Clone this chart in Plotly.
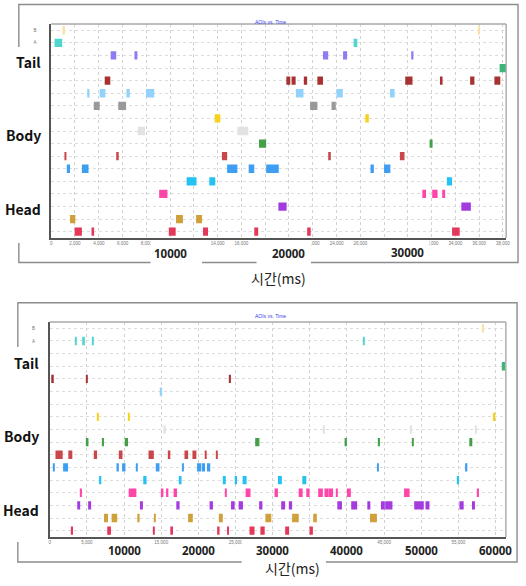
import plotly.graph_objects as go

W, H = 526, 586

# ---------------- data ----------------
ROW_LABELS = ["B", "A", "", "", "", "", "", "", "", "", "", "", "", "", "", "", ""]
ROW_COLORS = ["#FADFA8", "#4FD6CE", "#8B7DF2", "#3DB578", "#A83232", "#93D2FA",
              "#999999", "#F7D21C", "#E2E2E2", "#43A047", "#C9474A", "#3D9EF2",
              "#22C2F2", "#FF46A8", "#A33BDF", "#D0A03A", "#E5375A"]

TOP_ROWS = [0, 0, 1, 1, 2, 2, 2, 2, 2, 3,
            4, 4, 4, 4, 4, 4, 4, 4, 4,
            5, 5, 5, 5, 5, 5, 5,
            6, 6, 6, 6, 7, 7, 8, 8, 9, 9,
            10, 10, 10, 10, 10,
            11, 11, 11, 11, 11, 11, 11,
            12, 12, 12, 13, 13, 13, 13, 14, 14,
            15, 15, 15,
            16, 16, 16, 16, 16, 16, 16]
TOP_STARTS = [950, 35900, 280, 25440, 5000, 7000, 22860, 24550, 30330, 37720,
              4500, 19780, 20220, 21250, 22390, 29780, 32700, 35240, 37280,
              3100, 4080, 6330, 7970, 20580, 24000, 28500,
              3580, 5640, 21780, 23580, 13750, 26420, 7280, 15660, 17480, 31830,
              1110, 5530, 14360, 23380, 29330,
              1310, 2580, 14800, 16610, 18080, 26860, 28000,
              11390, 13300, 33280, 9080, 31220, 32050, 32890, 19110, 34500,
              1580, 10500, 12190,
              1970, 3390, 9890, 12770, 17080, 21530, 33720]
TOP_ENDS = [1150, 36080, 920, 25750, 5470, 7250, 23300, 24890, 30470, 38250,
            4970, 20110, 20560, 21530, 22860, 30390, 32920, 35600, 37780,
            3220, 4560, 6610, 8670, 21220, 24530, 28890,
            4080, 6300, 22390, 23940, 14220, 26720, 7890, 16580, 18080, 32080,
            1280, 5680, 14800, 23520, 29720,
            1580, 3140, 15660, 17080, 19140, 27140, 28530,
            12220, 13800, 33720, 9780, 31530, 32500, 33140, 19800, 35300,
            2030, 11080, 12690,
            2580, 3610, 10470, 13190, 17410, 21830, 34360]

BOT_ROWS = [0, 1, 1, 1, 1, 3, 4, 4, 4, 5, 7, 7, 7, 8, 8, 8, 8,
            9, 9, 9, 9, 9, 9, 9, 9,
            10, 10, 10, 10, 10, 10, 10, 10, 10, 10,
            11, 11, 11, 11, 11, 11, 11, 11, 11, 11, 11, 11,
            12, 12, 12, 12, 12, 12, 12, 12, 12,
            13, 13, 13, 13, 13, 13, 13, 13, 13, 13, 13, 13, 13, 13, 13, 13, 13,
            14, 14, 14, 14, 14, 14, 14, 14, 14, 14, 14, 14, 14, 14, 14, 14, 14, 14, 14,
            15, 15, 15, 15, 15, 15, 15, 15, 15, 15,
            16, 16, 16, 16, 16, 16, 16, 16, 16, 16]
BOT_STARTS = [58190, 3370, 4360, 5730, 42200, 60850, 190, 4850, 24200, 14800,
              6400, 10520, 59730, 15290, 36830, 48520, 57320,
              4980, 7070, 10090, 27650, 39690, 44260, 48750, 56480,
              760, 2490, 5920, 9290, 13290, 15960, 18130, 19200, 20850, 22360,
              450, 1790, 8980, 9730, 11650, 14270, 17780, 19820, 20450, 21160, 44040, 55910,
              6630, 12580, 17470, 23290, 24890, 25960, 30710, 34000, 54920,
              4090, 10620, 15060, 15650, 16660, 23650, 26360, 30260, 33510, 34530,
              36130, 36980, 37560, 38530, 40000, 47690, 57550,
              3690, 5160, 12130, 17030, 21510, 24400, 25420, 28180, 31150, 32180,
              38710, 40580, 42750, 44580, 45150, 49060, 50580, 55150, 56840,
              7290, 8320, 11780, 14090, 18620, 22760, 29020, 32620, 35460, 43110,
              2930, 7730, 13870, 16220, 22530, 23860, 26890, 28350, 31690, 34970]
BOT_ENDS = [58450, 3520, 4720, 5880, 42350, 61300, 530, 5070, 24380, 15120,
            6560, 10680, 59960, 15600, 36990, 48680, 57480,
            5200, 7290, 10530, 28220, 40000, 44450, 49010, 56880,
            1730, 3030, 6360, 9780, 14000, 16220, 18620, 19730, 21120, 22530,
            670, 2450, 9290, 10180, 11800, 14760, 18050, 20350, 20890, 21600, 44310, 56210,
            6930, 13020, 17730, 23690, 25200, 26490, 31240, 34530, 55100,
            4320, 11650, 15290, 15960, 17120, 23820, 27020, 30710, 34040, 34970,
            36760, 37540, 38130, 38760, 40530, 48440, 57780,
            4090, 5560, 12530, 17470, 21960, 24890, 26000, 28620, 31680, 32620,
            39330, 41380, 43150, 45100, 46130, 50350, 51110, 55720, 57240,
            7830, 9070, 12090, 14270, 19250, 23290, 29820, 33510, 35950, 44040,
            3120, 8230, 14130, 16580, 22850, 24130, 27560, 28930, 32220, 35420]

TOP_TICKS = list(range(0, 38001, 2000))
TOP_HIDDEN = [10000, 12000, 18000, 20000, 28000, 30000]
BOT_TICKS = list(range(0, 60001, 5000))
BOT_HIDDEN = [10000, 20000, 30000, 40000, 50000, 60000]
TOP_BIG = [10000, 20000, 30000]
BOT_BIG = [10000, 20000, 30000, 40000, 50000, 60000]
GROUP_LABELS = ["Tail", "Body", "Head"]
GROUP_ROWS = [2.55, 8.35, 14.2]
CHART_TITLE = "AOIs vs. Time"
AXIS_TITLE = "시간(ms)"

# ---------------- helpers ----------------
def px(x):
    return x / W

def py(y):
    return 1 - y / H

fig = go.Figure()

def add_bars(rows, starts, ends, xa, ya):
    fig.add_trace(go.Bar(
        orientation="h",
        y=rows,
        base=starts,
        x=[e - s for s, e in zip(starts, ends)],
        width=0.66,
        marker=dict(color=[ROW_COLORS[r] for r in rows], line=dict(width=0)),
        xaxis=xa, yaxis=ya, showlegend=False, hoverinfo="skip",
    ))

add_bars(TOP_ROWS, TOP_STARTS, TOP_ENDS, "x", "y")
add_bars(BOT_ROWS, BOT_STARTS, BOT_ENDS, "x2", "y2")

tick_font = dict(family="Liberation Sans, Arial", size=4.5, color="#777")

def xaxis_cfg(domain, rng, ticks, hidden, anchor):
    return dict(domain=domain, range=rng, tickvals=ticks,
                ticktext=["" if v in hidden else f"{v:,}" for v in ticks],
                tickfont=tick_font,
                showgrid=True, gridcolor="#d2d2d2", griddash="dot", gridwidth=1,
                showline=True, linecolor="#555", linewidth=1.6,
                zeroline=False, ticks="", anchor=anchor, fixedrange=True)

def yaxis_cfg(domain, anchor):
    return dict(domain=domain, range=[16.5, -0.5], tickvals=list(range(len(ROW_LABELS))),
                ticktext=ROW_LABELS, tickfont=tick_font, ticklabelstandoff=12,
                showgrid=True, gridcolor="#dcdcdc", griddash="dot", gridwidth=1,
                showline=True, linecolor="#555", linewidth=1.6,
                zeroline=False, ticks="", anchor=anchor, fixedrange=True)

TOP_BOX = (50.7, 24, 510, 238)
BOT_BOX = (49.3, 322, 509.7, 537)

fig.update_layout(
    width=W, height=H,
    margin=dict(l=0, r=0, t=0, b=0),
    paper_bgcolor="white", plot_bgcolor="white",
    barmode="overlay",
    xaxis=xaxis_cfg([px(TOP_BOX[0]), px(TOP_BOX[2])], [0, 38270], TOP_TICKS, TOP_HIDDEN, "y"),
    yaxis=yaxis_cfg([py(TOP_BOX[3]), py(TOP_BOX[1])], "x"),
    xaxis2=xaxis_cfg([px(BOT_BOX[0]), px(BOT_BOX[2])], [0, 61400], BOT_TICKS, BOT_HIDDEN, "y2"),
    yaxis2=yaxis_cfg([py(BOT_BOX[3]), py(BOT_BOX[1])], "x2"),
)

shapes = []
def rect(x0, y0, x1, y1, **kw):
    d = dict(type="rect", xref="paper", yref="paper",
             x0=px(x0), x1=px(x1), y0=py(y1), y1=py(y0), layer="above")
    d.update(kw)
    shapes.append(d)

def line(x0, y0, x1, y1, color, w):
    shapes.append(dict(type="line", xref="paper", yref="paper",
                       x0=px(x0), x1=px(x1), y0=py(y0), y1=py(y1),
                       line=dict(color=color, width=w), layer="above"))

# outer frames (screenshot borders)
rect(18, 4.5, 522, 262.5, line=dict(color="#8c8c8c", width=1.4), fillcolor="rgba(0,0,0,0)")
rect(17, 302.7, 521, 562, line=dict(color="#8c8c8c", width=1.4), fillcolor="rgba(0,0,0,0)")
# lighter top / right plot borders
for (x0, y0, x1, y1) in (TOP_BOX, BOT_BOX):
    line(x0, y0, x1, y0, "#a8a8a8", 1.4)
    line(x1, y0, x1, y1, "#a8a8a8", 1.4)

white = dict(line=dict(width=0), fillcolor="white")
# top panel cover boxes
rect(0, 47, 47, 243, **white)
rect(151, 241, 203, 266, **white)
rect(258, 241, 313, 266, **white)
rect(380, 241, 432, 260, **white)
rect(240, 264, 330, 290, **white)
# bottom panel cover boxes
rect(0, 347, 46, 542, **white)
rect(243, 540, 328, 566, **white)
rect(240, 564, 340, 586, **white)

fig.update_layout(shapes=shapes)

ann = []
big_font = dict(family="Noto Sans, DejaVu Sans", size=11.5, color="#222")
group_font = dict(family="Noto Sans CJK KR, Noto Sans", size=14, color="#111")
title_font = dict(family="Liberation Sans, Arial", size=5, color="#3a3af0")
axis_font = dict(family="Noto Sans CJK KR", size=14, color="#222")

for v, yy in zip(TOP_BIG, [253, 253, 252.5]):
    ann.append(dict(x=v, xref="x", y=py(yy), yref="paper", text=f"<b>{v}</b>",
                    showarrow=False, font=big_font, xanchor="center", yanchor="middle",
                    borderpad=0))
for v in BOT_BIG:
    ann.append(dict(x=v, xref="x2", y=py(550), yref="paper", text=f"<b>{v}</b>",
                    showarrow=False, font=big_font, xanchor="center", yanchor="middle",
                    borderpad=0))
for lab, r in zip(GROUP_LABELS, GROUP_ROWS):
    ann.append(dict(x=px(42), xref="paper", y=r, yref="y", text=f"<b>{lab}</b>",
                    showarrow=False, font=group_font, xanchor="right", yanchor="middle"))
    ann.append(dict(x=px(40.5), xref="paper", y=r + 0.2, yref="y2", text=f"<b>{lab}</b>",
                    showarrow=False, font=group_font, xanchor="right", yanchor="middle"))
ann.append(dict(x=px(272), xref="paper", y=py(17), yref="paper", text=CHART_TITLE,
                showarrow=False, font=title_font))
ann.append(dict(x=px(272), xref="paper", y=py(315.5), yref="paper", text=CHART_TITLE,
                showarrow=False, font=title_font))
ann.append(dict(x=px(280), xref="paper", y=py(278), yref="paper", text=AXIS_TITLE,
                showarrow=False, font=axis_font, borderpad=0))
ann.append(dict(x=px(294), xref="paper", y=py(579), yref="paper", text=AXIS_TITLE,
                showarrow=False, font=axis_font, borderpad=0))

fig.update_layout(annotations=ann)

fig.write_html("out.html", config={"displayModeBar": False},
               post_script="document.body.style.margin='0px';")
